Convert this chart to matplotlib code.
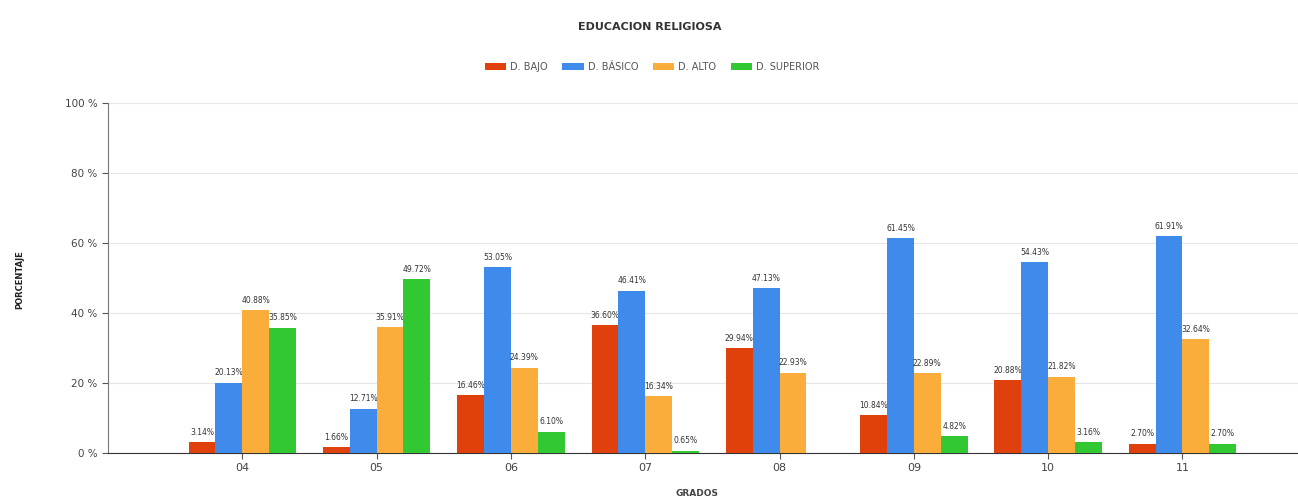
import matplotlib.pyplot as plt
import numpy as np

grados = ['04', '05', '06', '07', '08', '09', '10', '11']
series = ['D. BAJO', 'D. BÁSICO', 'D. ALTO', 'D. SUPERIOR']
bajo = [3.14, 1.66, 16.46, 36.60, 29.94, 10.84, 20.88, 2.70]
basico = [20.13, 12.71, 53.05, 46.41, 47.13, 61.45, 54.43, 61.91]
alto = [40.88, 35.91, 24.39, 16.34, 22.93, 22.89, 21.82, 32.64]
superior = [35.85, 49.72, 6.10, 0.65, 0.0, 4.82, 3.16, 2.70]
colores = ['#E0400B', '#3F8BEB', '#FBAD3C', '#31C831']

fig = plt.figure(figsize=(12.98, 5.04), dpi=100)
ax = fig.add_axes([108 / 1298, 1 - 453 / 504, 1 - 108 / 1298, 350 / 504])

x = np.arange(len(grados))
w = 0.2
for i, (vals, nombre, c) in enumerate(zip([bajo, basico, alto, superior], series, colores)):
    pos = x + (i - 1.5) * w
    ax.bar(pos, vals, width=w, color=c, label=nombre, zorder=3)
    for p, v in zip(pos, vals):
        if v > 0:
            ax.text(p, v + 1.5, f'{v:.2f}%', ha='center', va='bottom', fontsize=5.5, color='#333333')

ax.set_xlim(-1, 7.86)
ax.set_ylim(0, 100)
ax.set_xticks(x)
ax.set_xticklabels(grados, fontsize=8, color='#444444')
ax.set_yticks(range(0, 101, 20))
ax.set_yticklabels([f'{v} %' for v in range(0, 101, 20)], fontsize=7.5, color='#444444')
ax.yaxis.grid(True, color='#e6e6e6', linewidth=0.8, zorder=0)
ax.tick_params(axis='both', length=4, color='#555555', width=0.8)
for s in ['top', 'right']:
    ax.spines[s].set_visible(False)
ax.spines['left'].set_color('#777777')
ax.spines['bottom'].set_color('#333333')

fig.text(110 / 1298 * 0 + 20 / 1298, 1 - 280 / 504, 'PORCENTAJE', rotation=90, ha='center', va='center',
         fontsize=6, fontweight='bold', color='#222222')
fig.text(697 / 1298, 1 - 493 / 504, 'GRADOS', ha='center', va='center', fontsize=6.5,
         fontweight='bold', color='#444444')
fig.text(650 / 1298, 1 - 27 / 504, 'EDUCACION RELIGIOSA', ha='center', va='center', fontsize=8,
         fontweight='bold', color='#333333')

fig.legend(loc='center', bbox_to_anchor=(652 / 1298, 1 - 67 / 504), ncol=4, frameon=False,
           fontsize=7, handlelength=2.2, handleheight=0.8, columnspacing=1.5, handletextpad=0.4,
           labelcolor='#555555')

fig.savefig('out.png', dpi=100)
